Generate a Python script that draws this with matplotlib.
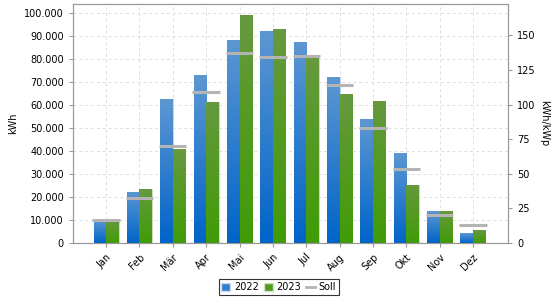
import numpy as np
import matplotlib
matplotlib.use("Agg")
from matplotlib import pyplot as plt
from matplotlib.colors import LinearSegmentedColormap
from matplotlib.patches import Patch
from matplotlib.lines import Line2D
from matplotlib.ticker import FuncFormatter, MultipleLocator

months = ["Jan", "Feb", "Mär", "Apr", "Mai", "Jun", "Jul", "Aug", "Sep", "Okt", "Nov", "Dez"]
y2022 = [10000, 22400, 62600, 72900, 88300, 92100, 87300, 72100, 53900, 39100, 13900, 4200]
y2023 = [9700, 23500, 40700, 61200, 99200, 92900, 81700, 65000, 61900, 25300, 14100, 5500]
soll = [9900, 19500, 42300, 65700, 82700, 81000, 81400, 68700, 50100, 32100, 12100, 7700]
kwp = 602.0

plt.rcParams['font.family'] = 'DejaVu Sans'
plt.rcParams['font.size'] = 7

fig = plt.figure(figsize=(5.6, 3.0), dpi=100)
ax = fig.add_axes([0.130, 0.19, 0.777, 0.797])

x = np.arange(len(months))
w = 0.375
b1 = ax.bar(x - w / 2, y2022, w, color="#2f7fcf", edgecolor="#c8dcf0", linewidth=0.6, zorder=3)
b2 = ax.bar(x + w / 2, y2023, w, color="#4f9a1f", edgecolor="#cfe3c0", linewidth=0.6, zorder=3)

# vertical gradient inside the bars
blue_cm = LinearSegmentedColormap.from_list("b", ["#0064c8", "#5d97d2"])
green_cm = LinearSegmentedColormap.from_list("g", ["#409c05", "#66993f"])
grad = np.linspace(0, 1, 256).reshape(-1, 1)
for bars, cm in ((b1, blue_cm), (b2, green_cm)):
    for p in bars:
        x0, y0 = p.get_x(), p.get_y()
        x1, y1 = x0 + p.get_width(), y0 + p.get_height()
        im = ax.imshow(grad, cmap=cm, origin="lower", aspect="auto",
                       extent=(x0, x1, y0, y1), zorder=3.1)
        im.set_clip_path(p)

ax.hlines(soll, x - 0.41, x + 0.41, color="#b4b4b4", linewidth=2.2, zorder=4)

ax.set_xlim(-1.0, 12.05)
ax.set_ylim(0, 104000)
ax.yaxis.set_major_locator(MultipleLocator(10000))
ax.yaxis.set_major_formatter(FuncFormatter(lambda v, p: f"{int(v):,}".replace(",", ".")))
ax.set_xticks(x)
ax.set_xticklabels(months, rotation=45, ha="right", rotation_mode="anchor")
ax.set_ylabel("kWh", fontsize=7)
ax.grid(True, color="#dddddd", linestyle=(0, (3, 3)), linewidth=0.7, zorder=0)
ax.set_axisbelow(True)
for s in ax.spines.values():
    s.set_color("#999999")
ax.tick_params(colors="#999999", labelcolor="black", length=3)

ax2 = ax.twinx()
ax2.set_ylim(0, 104000 / kwp)
ax2.yaxis.set_major_locator(MultipleLocator(25))
ax2.set_ylabel("kWh/kWp", rotation=270, labelpad=10, fontsize=7)
for s in ax2.spines.values():
    s.set_color("#999999")
ax2.tick_params(colors="#999999", labelcolor="black", length=3)

handles = [Patch(facecolor="#2f7fcf", edgecolor="#c8dcf0"),
           Patch(facecolor="#4f9a1f", edgecolor="#cfe3c0"),
           Line2D([0], [0], color="#b4b4b4", linewidth=2)]
leg = fig.legend(handles, ["2022", "2023", "Soll"], loc="lower center",
                 bbox_to_anchor=(0.498, 0.0), ncol=3, fontsize=7, frameon=True,
                 fancybox=False, handlelength=0.9, handleheight=0.9,
                 columnspacing=0.5, handletextpad=0.4, borderpad=0.3)
leg.get_frame().set_edgecolor("black")
leg.get_frame().set_linewidth(0.8)

fig.savefig("out.png", dpi=100)
